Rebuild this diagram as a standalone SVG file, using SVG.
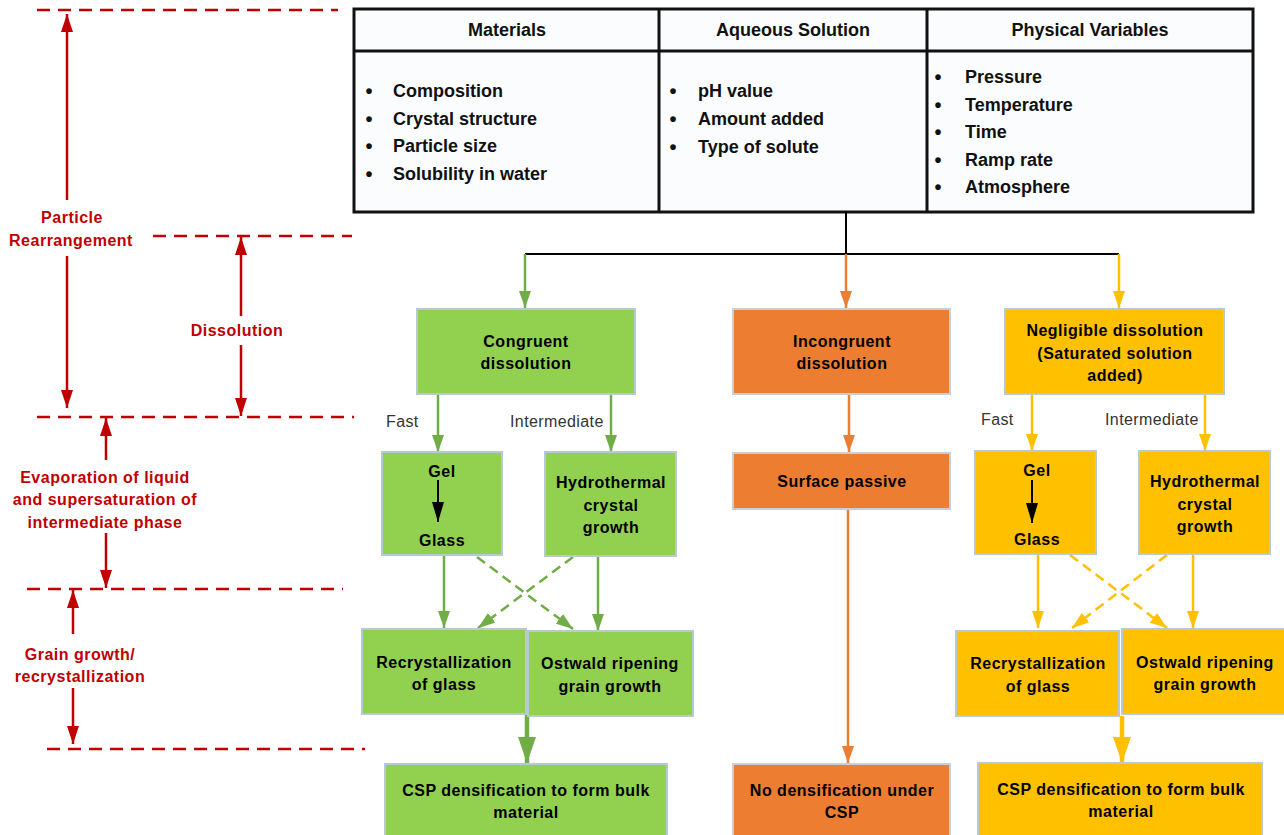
<svg xmlns="http://www.w3.org/2000/svg" width="1284" height="835" viewBox="0 0 1284 835">
<style>
.tbl{font-family:"Liberation Sans",Arial,sans-serif;font-weight:bold;font-size:18px;fill:#111}
.bul{font-family:"Liberation Sans",Arial,sans-serif;font-weight:bold;font-size:20px;fill:#111;text-anchor:middle}
.bt{font-family:"Liberation Sans",Arial,sans-serif;font-weight:bold;font-size:16px;letter-spacing:0.5px;fill:#000;text-anchor:middle}
.lbl{font-family:"Liberation Sans",Arial,sans-serif;font-size:16px;letter-spacing:0.4px;fill:#333}
.red{font-family:"Liberation Sans",Arial,sans-serif;font-weight:bold;font-size:16px;letter-spacing:0.5px;fill:#C00000;text-anchor:middle}
.g{fill:#92D050;stroke:#B8C9D6;stroke-width:2}
.o{fill:#ED7D31;stroke:#C9CFD6;stroke-width:2}
.y{fill:#FFC000;stroke:#B8C9D6;stroke-width:2}
.gl{stroke:#70AD47;stroke-width:2.5;fill:none}
.ol{stroke:#ED7D31;stroke-width:2.5;fill:none}
.yl{stroke:#FFC000;stroke-width:2.5;fill:none}
.dash{stroke-dasharray:10 6}
.rd{stroke:#C00000;stroke-width:2.5;stroke-dasharray:13 8;fill:none}
.ra{stroke:#C00000;stroke-width:2.5;fill:none;marker-end:url(#ar)}
</style>
<defs>
<marker id="ag" markerUnits="userSpaceOnUse" markerWidth="17" markerHeight="12" refX="17" refY="6" orient="auto"><path d="M0,0 L17,6 L0,12 z" fill="#70AD47"/></marker>
<marker id="ao" markerUnits="userSpaceOnUse" markerWidth="17" markerHeight="12" refX="17" refY="6" orient="auto"><path d="M0,0 L17,6 L0,12 z" fill="#ED7D31"/></marker>
<marker id="ay" markerUnits="userSpaceOnUse" markerWidth="17" markerHeight="12" refX="17" refY="6" orient="auto"><path d="M0,0 L17,6 L0,12 z" fill="#FFC000"/></marker>
<marker id="agb" markerUnits="userSpaceOnUse" markerWidth="26" markerHeight="18" refX="26" refY="9" orient="auto"><path d="M0,0 L26,9 L0,18 z" fill="#70AD47"/></marker>
<marker id="ayb" markerUnits="userSpaceOnUse" markerWidth="26" markerHeight="18" refX="26" refY="9" orient="auto"><path d="M0,0 L26,9 L0,18 z" fill="#FFC000"/></marker>
<marker id="ak" markerUnits="userSpaceOnUse" markerWidth="20" markerHeight="12" refX="20" refY="6" orient="auto"><path d="M0,0 L20,6 L0,12 z" fill="#000"/></marker>
<marker id="ar" markerUnits="userSpaceOnUse" markerWidth="18" markerHeight="12" refX="18" refY="6" orient="auto"><path d="M0,0 L18,6 L0,12 z" fill="#C00000"/></marker>
</defs>
<rect width="1284" height="835" fill="#fff"/>

<g id="annotations">
<line class="rd" x1="37" y1="10" x2="338" y2="10"/>
<line class="rd" x1="153" y1="236" x2="352" y2="236"/>
<line class="rd" x1="37" y1="417" x2="354" y2="417"/>
<line class="rd" x1="27" y1="589" x2="343" y2="589"/>
<line class="rd" x1="47" y1="749" x2="365" y2="749"/>
<line class="ra" x1="67" y1="200" x2="67" y2="14"/>
<line class="ra" x1="67" y1="256" x2="67" y2="408"/>
<line class="ra" x1="241" y1="316" x2="241" y2="237"/>
<line class="ra" x1="241" y1="345" x2="241" y2="416"/>
<line class="ra" x1="106" y1="460" x2="106" y2="418"/>
<line class="ra" x1="106" y1="533" x2="106" y2="588"/>
<line class="ra" x1="73" y1="634" x2="73" y2="590"/>
<line class="ra" x1="73" y1="688" x2="73" y2="744"/>
<text class="red" x="72" y="223">Particle</text>
<text class="red" x="71" y="246">Rearrangement</text>
<text class="red" x="237" y="336">Dissolution</text>
<text class="red" x="105" y="483">Evaporation of liquid</text>
<text class="red" x="105" y="505">and supersaturation of</text>
<text class="red" x="105" y="528">intermediate phase</text>
<text class="red" x="80" y="660">Grain growth/</text>
<text class="red" x="80" y="682">recrystallization</text>
</g>

<g id="table">
<rect x="354" y="9" width="899" height="203" fill="#FAFCFE" stroke="#111" stroke-width="3"/>
<line x1="354" y1="51" x2="1253" y2="51" stroke="#111" stroke-width="3"/>
<line x1="659" y1="9" x2="659" y2="212" stroke="#111" stroke-width="3"/>
<line x1="927" y1="9" x2="927" y2="212" stroke="#111" stroke-width="3"/>
<g id="materials">
<text class="tbl" x="507" y="36" text-anchor="middle">Materials</text>
<text class="bul" x="369" y="98">•</text><text class="tbl" x="393" y="97">Composition</text>
<text class="bul" x="369" y="126">•</text><text class="tbl" x="393" y="125">Crystal structure</text>
<text class="bul" x="369" y="153">•</text><text class="tbl" x="393" y="152">Particle size</text>
<text class="bul" x="369" y="181">•</text><text class="tbl" x="393" y="180">Solubility in water</text>
</g>
<g id="aqueous">
<text class="tbl" x="793" y="36" text-anchor="middle">Aqueous Solution</text>
<text class="bul" x="673" y="98">•</text><text class="tbl" x="698" y="97">pH value</text>
<text class="bul" x="673" y="126">•</text><text class="tbl" x="698" y="125">Amount added</text>
<text class="bul" x="673" y="154">•</text><text class="tbl" x="698" y="153">Type of solute</text>
</g>
<g id="physical">
<text class="tbl" x="1090" y="36" text-anchor="middle">Physical Variables</text>
<text class="bul" x="938" y="84">•</text><text class="tbl" x="965" y="83">Pressure</text>
<text class="bul" x="938" y="112">•</text><text class="tbl" x="965" y="111">Temperature</text>
<text class="bul" x="938" y="139">•</text><text class="tbl" x="965" y="138">Time</text>
<text class="bul" x="938" y="167">•</text><text class="tbl" x="965" y="166">Ramp rate</text>
<text class="bul" x="938" y="194">•</text><text class="tbl" x="965" y="193">Atmosphere</text>
</g>
</g>

<g id="connectors">
<polyline points="846,212 846,254" stroke="#000" stroke-width="2" fill="none"/>
<line x1="525" y1="254" x2="1119" y2="254" stroke="#000" stroke-width="2"/>
<line class="gl" x1="525" y1="254" x2="525" y2="308" marker-end="url(#ag)"/>
<line class="ol" x1="846" y1="254" x2="846" y2="308" marker-end="url(#ao)"/>
<line class="yl" x1="1119" y1="254" x2="1119" y2="308" marker-end="url(#ay)"/>
<line class="gl" x1="438" y1="394" x2="438" y2="452" marker-end="url(#ag)"/>
<line class="gl" x1="611" y1="394" x2="611" y2="452" marker-end="url(#ag)"/>
<line class="gl" x1="444" y1="555" x2="444" y2="628" marker-end="url(#ag)"/>
<line class="gl" x1="598" y1="556" x2="598" y2="631" marker-end="url(#ag)"/>
<line class="gl dash" x1="477" y1="557" x2="573" y2="629" marker-end="url(#ag)"/>
<line class="gl dash" x1="573" y1="557" x2="478" y2="628" marker-end="url(#ag)"/>
<line x1="527" y1="714" x2="527" y2="763" stroke="#70AD47" stroke-width="4.5" marker-end="url(#agb)"/>
<line class="ol" x1="849" y1="394" x2="849" y2="452" marker-end="url(#ao)"/>
<line class="ol" x1="848" y1="509" x2="848" y2="763" marker-end="url(#ao)"/>
<line class="yl" x1="1032" y1="394" x2="1032" y2="451" marker-end="url(#ay)"/>
<line class="yl" x1="1205" y1="394" x2="1205" y2="451" marker-end="url(#ay)"/>
<line class="yl" x1="1038" y1="554" x2="1038" y2="628" marker-end="url(#ay)"/>
<line class="yl" x1="1193" y1="554" x2="1193" y2="628" marker-end="url(#ay)"/>
<line class="yl dash" x1="1070" y1="555" x2="1167" y2="628" marker-end="url(#ay)"/>
<line class="yl dash" x1="1167" y1="555" x2="1072" y2="628" marker-end="url(#ay)"/>
<line x1="1122" y1="716" x2="1122" y2="763" stroke="#FFC000" stroke-width="4.5" marker-end="url(#ayb)"/>
<text class="lbl" x="386" y="427">Fast</text>
<text class="lbl" x="510" y="427">Intermediate</text>
<text class="lbl" x="981" y="425">Fast</text>
<text class="lbl" x="1105" y="425">Intermediate</text>
</g>

<g id="congruent"><rect class="g" x="417" y="309" width="218" height="85"/><text class="bt" x="526" y="347">Congruent</text><text class="bt" x="526" y="369">dissolution</text></g>
<g id="gel-green"><rect class="g" x="382" y="452" width="120" height="103"/><text class="bt" x="442" y="477">Gel</text><line x1="438" y1="480" x2="438" y2="522" stroke="#000" stroke-width="2" marker-end="url(#ak)"/><text class="bt" x="442" y="546">Glass</text></g>
<g id="hydro-green"><rect class="g" x="545" y="452" width="131" height="104"/><text class="bt" x="611" y="488">Hydrothermal</text><text class="bt" x="611" y="511">crystal</text><text class="bt" x="611" y="533">growth</text></g>
<g id="recryst-green"><rect class="g" x="362" y="629" width="164" height="85"/><text class="bt" x="444" y="668">Recrystallization</text><text class="bt" x="444" y="690">of glass</text></g>
<g id="ostwald-green"><rect class="g" x="528" y="631" width="165" height="85"/><text class="bt" x="610" y="669">Ostwald ripening</text><text class="bt" x="610" y="692">grain growth</text></g>
<g id="csp-green"><rect class="g" x="385" y="764" width="282" height="80"/><text class="bt" x="526" y="796">CSP densification to form bulk</text><text class="bt" x="526" y="818">material</text></g>

<g id="incongruent"><rect class="o" x="733" y="309" width="217" height="85"/><text class="bt" x="842" y="347">Incongruent</text><text class="bt" x="842" y="369">dissolution</text></g>
<g id="surface"><rect class="o" x="733" y="453" width="217" height="56"/><text class="bt" x="842" y="487">Surface passive</text></g>
<g id="nodens"><rect class="o" x="733" y="764" width="217" height="80"/><text class="bt" x="842" y="796">No densification under</text><text class="bt" x="842" y="818">CSP</text></g>

<g id="negligible"><rect class="y" x="1005" y="309" width="219" height="85"/><text class="bt" x="1115" y="336">Negligible dissolution</text><text class="bt" x="1115" y="359">(Saturated solution</text><text class="bt" x="1115" y="381">added)</text></g>
<g id="gel-yellow"><rect class="y" x="975" y="451" width="121" height="103"/><text class="bt" x="1037" y="476">Gel</text><line x1="1032" y1="480" x2="1032" y2="523" stroke="#000" stroke-width="2" marker-end="url(#ak)"/><text class="bt" x="1037" y="545">Glass</text></g>
<g id="hydro-yellow"><rect class="y" x="1139" y="451" width="131" height="103"/><text class="bt" x="1205" y="487">Hydrothermal</text><text class="bt" x="1205" y="510">crystal</text><text class="bt" x="1205" y="532">growth</text></g>
<g id="recryst-yellow"><rect class="y" x="956" y="631" width="163" height="85"/><text class="bt" x="1038" y="669">Recrystallization</text><text class="bt" x="1038" y="692">of glass</text></g>
<g id="ostwald-yellow"><rect class="y" x="1122" y="629" width="165" height="85"/><text class="bt" x="1205" y="668">Ostwald ripening</text><text class="bt" x="1205" y="690">grain growth</text></g>
<g id="csp-yellow"><rect class="y" x="978" y="763" width="284" height="80"/><text class="bt" x="1121" y="795">CSP densification to form bulk</text><text class="bt" x="1121" y="817">material</text></g>
</svg>
